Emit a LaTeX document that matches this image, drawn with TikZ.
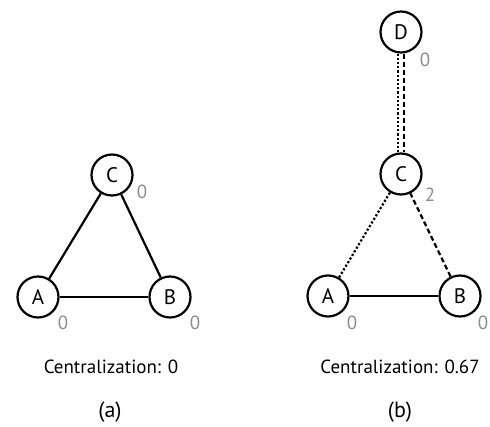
\documentclass[tikz,border=0pt]{standalone}
\usepackage{fontspec}
\setmainfont{PT Sans}
\begin{document}
\begin{tikzpicture}[x=1pt,y=-1pt,
  vtx/.style={circle,draw=black,line width=2.2pt,minimum size=41pt,inner sep=0pt,font=\fontsize{21}{21}\selectfont,fill=white},
  deg/.style={text=black!45,font=\fontsize{19}{19}\selectfont,inner sep=0pt},
  edge/.style={line width=2.2pt},
  captxt/.style={font=\fontsize{19}{19}\selectfont,inner sep=0pt},
  sublab/.style={font=\fontsize{22}{22}\selectfont,inner sep=0pt}]
\useasboundingbox (0,0) rectangle (490,427);
% (a)
\node[vtx] (aC) at (112,175) {C};
\node[vtx] (aA) at (38,297) {A};
\node[vtx] (aB) at (170,297) {B};
\draw[edge] (aA) -- (aB);
\draw[edge] (aA) -- (aC);
\draw[edge] (aB) -- (aC);
\node[deg] (aCd) at (142,192) {0};
\node[deg] (aAd) at (63,323) {0};
\node[deg] (aBd) at (195,323) {0};
\node[captxt] (acap) at (111,367) {Centralization: 0};
\node[sublab] (alab) at (110,412) {(a)};
% (b)
\node[vtx] (bD) at (401,32) {D};
\node[vtx] (bC) at (401,174) {C};
\node[vtx] (bA) at (328,296) {A};
\node[vtx] (bB) at (460,296) {B};
\draw[edge] (bA) -- (bB);
\draw[edge,dotted] (bA) -- (bC);
\draw[edge,dash pattern=on 5pt off 3pt] (bB) -- (bC);
\draw[edge,dotted] ([xshift=-3.3pt]bD.south) -- ([xshift=-3.3pt]bC.north);
\draw[edge,dash pattern=on 5pt off 3pt] ([xshift=3.3pt]bD.south) -- ([xshift=3.3pt]bC.north);
\node[deg] (bDd) at (425,60) {0};
\node[deg] (bCd) at (430,195) {2};
\node[deg] (bAd) at (352,323) {0};
\node[deg] (bBd) at (483,323) {0};
\node[captxt] (bcap) at (400,367) {Centralization: 0.67};
\node[sublab] (blab) at (400,412) {(b)};
\end{tikzpicture}
\end{document}
